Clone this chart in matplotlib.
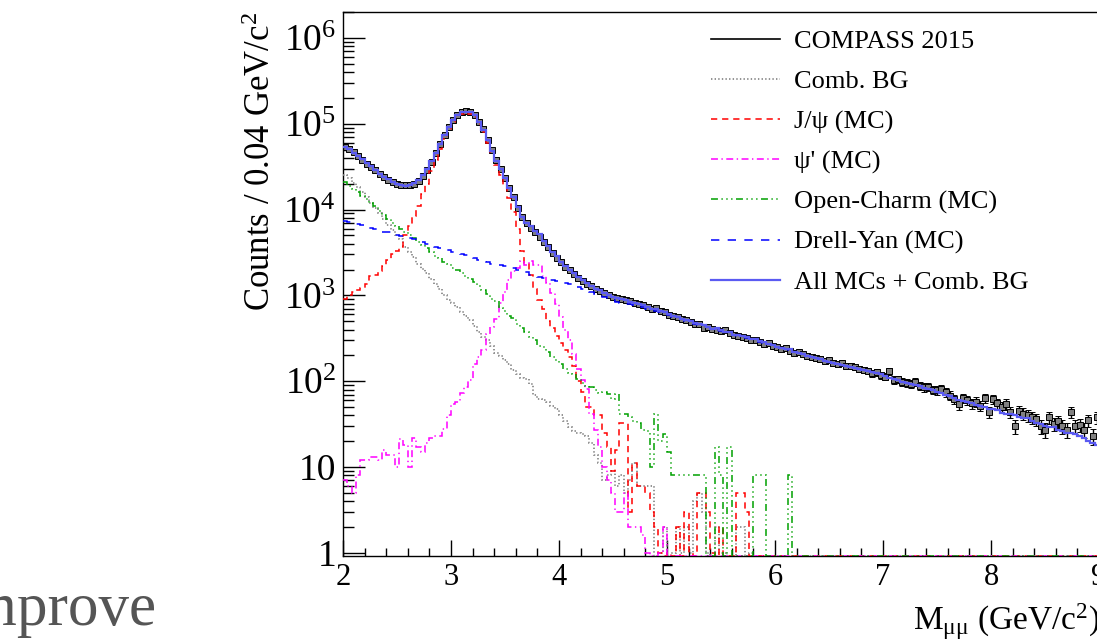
import numpy as np
import matplotlib
matplotlib.use('Agg')
import matplotlib.pyplot as plt
from matplotlib.lines import Line2D
from matplotlib.ticker import MultipleLocator, LogLocator, NullFormatter

plt.rcParams['font.family'] = ['Liberation Serif', 'DejaVu Serif']
plt.rcParams['mathtext.fontset'] = 'custom'
plt.rcParams['mathtext.rm'] = 'Liberation Serif'
plt.rcParams['mathtext.it'] = 'Liberation Serif:italic'
plt.rcParams['lines.scale_dashes'] = False

# 0.04 GeV bins from 2.00 to 9.08 GeV/c^2
bin_width = 0.04
edges = np.round(2.0 + bin_width * np.arange(178), 2)
nbins = len(edges) - 1

compass_2015 = [
    54000, 50500, 46500, 42000, 38000, 34000, 31000, 28500, 26000, 23800,
    22200, 20900, 20000, 19400, 19200, 19300, 19900, 21600, 24500, 28500,
    35500, 45000, 58000, 74000, 92000, 110000, 126000, 136000, 139000, 136000,
    126000, 106000, 86000, 65000, 49000, 38000, 29500, 23500, 18000, 14000,
    10300, 8200, 7000, 6100, 5400, 4800, 4150, 3650, 3100, 2750,
    2430, 2150, 1950, 1780, 1600, 1470, 1370, 1290, 1200, 1120,
    1060, 1010, 970, 940, 905, 875, 850, 820, 795, 770,
    735, 700, 705, 655, 640, 590, 575, 560, 530, 515,
    495, 470, 460, 420, 430, 405, 400, 385, 390, 365,
    350, 335, 325, 315, 300, 305, 285, 270, 275, 255,
    250, 240, 245, 225, 215, 218, 205, 198, 190, 185,
    180, 172, 175, 165, 160, 163, 152, 150, 148, 140,
    136, 132, 124, 127, 118, 113, 130, 104, 105, 98,
    96, 93, 98, 89, 85, 86, 80, 78, 82, 74,
    68, 62, 54, 63, 60, 55, 58, 52, 63, 44,
    62, 55, 50, 54, 44, 30, 45, 42, 40, 38,
    36, 30, 27, 38, 32, 34, 30, 27, 44, 30,
    31, 27, 35, 23, 38, 34, 30,
]

comb_bg = [
    25000, 23000, 20500, 18300, 16000, 14000, 12000, 10500, 9000, 7700,
    6600, 5800, 5100, 4500, 3700, 3200, 2800, 2350, 2050, 1800,
    1550, 1350, 1180, 1000, 890, 820, 730, 640, 580, 520,
    440, 370, 330, 300, 255, 215, 195, 175, 160, 135,
    120, 110, 105, 94, 70, 62, 60, 58, 52, 48,
    40, 34, 29, 26, 25, 24, 23, 19, 14, 11,
    7, 8, 9, 6, 8, 5, 7, 11, 6, 6,
    6, 6, 0, 1, 2, 0, 1, 2, 1, 2,
    1, 4, 5, 3, 1, 0, 2, 1, 1, 0,
    0, 2, 2, 0, 1, 0, 0, 0, 0, 0,
]

jpsi_mc = [
    900, 1000, 1100, 1150, 1210, 1350, 1660, 1750, 1900, 2200,
    2600, 3000, 3250, 3700, 5000, 6400, 8500, 11000, 15000, 20000,
    28000, 38000, 51000, 67000, 86000, 104000, 120000, 130000, 133000, 130000,
    120000, 100000, 80000, 60000, 44000, 33000, 25500, 19000, 13500, 9300,
    6000, 3300, 2400, 1750, 1200, 880, 700, 500, 420, 340,
    275, 230, 190, 150, 100, 75, 50, 50, 40, 40,
    25, 17, 9, 16, 33, 33, 3, 11, 6, 6,
    5, 3, 2, 1, 0, 1, 0, 2, 0, 3,
    1, 0, 5, 5, 3, 1, 0, 2, 0, 0,
    0, 5, 5, 3, 0, 0, 0, 0, 0, 0,
]

psi2s_mc = [
    7, 6, 5, 8, 12, 12, 13, 13, 12, 16,
    14, 14, 10, 21, 18, 10, 22, 17, 15, 19,
    22, 23, 23, 28, 40, 54, 57, 72, 85, 102,
    160, 192, 229, 351, 431, 525, 811, 1100, 1500, 1900,
    2100, 2490, 2280, 2490, 2280, 2280, 1700, 1400, 1060, 800,
    560, 400, 300, 210, 140, 102, 82, 42, 27, 17,
    10, 7, 5, 3, 3, 5, 2, 2, 2, 1.6,
    1, 0, 0, 1, 2,
]

open_charm_mc = [
    20700, 19000, 17300, 15800, 14500, 13200, 12000, 11000, 9600, 8700,
    7800, 7000, 6500, 6000, 5400, 5000, 4600, 4200, 3900, 3550,
    3200, 2900, 2700, 2450, 2300, 2100, 1980, 1800, 1660, 1550,
    1420, 1300, 1150, 1050, 900, 850, 720, 650, 570, 540,
    470, 420, 370, 330, 300, 260, 250, 220, 190, 175,
    160, 140, 125, 120, 105, 95, 88, 85, 78, 72,
    75, 71, 62, 71, 42, 42, 38, 34, 33, 27,
    26, 10, 42, 20, 24, 15, 8, 8, 8, 8,
    8, 8, 8, 8, 0, 0, 17, 8, 0, 17,
    0, 0, 0, 0, 0, 8, 8, 8, 0, 0,
    0, 0, 0, 8,
]

drell_yan_mc = [
    7300, 7100, 6900, 6700, 6550, 6350, 6100, 5900, 5700, 5500,
    5400, 5250, 5100, 4950, 4900, 4700, 4550, 4300, 4150, 3950,
    3750, 3700, 3550, 3450, 3350, 3200, 3100, 3000, 2950, 2850,
    2700, 2600, 2550, 2450, 2350, 2300, 2250, 2200, 2180, 2100,
    2000, 1900, 1850, 1750, 1700, 1650, 1600, 1550, 1500, 1480,
    1430, 1380, 1350, 1300, 1250, 1200, 1150, 1080, 1040, 1000,
    945, 905, 880, 845, 820, 795, 790, 765, 750, 730,
    700, 680, 650, 635, 610, 585, 565, 545, 525, 505,
    490, 470, 450, 435, 425, 410, 395, 385, 375, 360,
    350, 340, 330, 320, 310, 300, 290, 280, 272, 262,
    253, 245, 236, 228, 220, 212, 205, 197, 190, 185,
    180, 174, 168, 163, 158, 153, 150, 146, 142, 138,
    134, 130, 127, 123, 120, 115, 110, 106, 102, 98,
    96, 93, 90, 87, 84, 81, 78, 75, 72, 70,
    67, 64, 61, 59, 57, 55, 53, 51, 50, 48,
    47, 46, 43, 42, 41, 40, 38, 37, 37, 34,
    33, 32, 30, 29, 29, 27, 26, 25, 25, 24,
    23, 22, 20, 19, 18, 17, 17,
]

labels = ['COMPASS 2015', 'Comb. BG', 'J/\u03c8 (MC)', "\u03c8' (MC)",
          'Open-Charm (MC)', 'Drell-Yan (MC)', 'All MCs + Comb. BG']


def full(vals):
    # histogram bins beyond the listed ones are empty
    vals = np.asarray(vals, dtype=float)
    return np.pad(vals, (0, nbins - len(vals)))


data = np.asarray(compass_2015, dtype=float)
comb = full(comb_bg)
jpsi = full(jpsi_mc)
psi2s = full(psi2s_mc)
ocharm = full(open_charm_mc)
dy = full(drell_yan_mc)
total = comb + jpsi + psi2s + ocharm + dy

ylo, yhi = 0.92, 2.0e6

fig = plt.figure(figsize=(10.97, 6.41), dpi=100)
ax = fig.add_axes([343 / 1097, 1 - 556 / 641, 864 / 1097, 544 / 641])
ax.set_yscale('log')

centers = edges[:-1] + bin_width / 2
ax.errorbar(centers, data, xerr=bin_width / 2, yerr=np.sqrt(data), fmt='s',
            ms=3.8, mfc='#808080', mec='black', mew=0.7, ecolor='black',
            elinewidth=1.0, capsize=2.0, capthick=1.0, zorder=2)

styles = [
    (comb, '#808080', (0, (1.0, 1.6)), 1.2),
    (jpsi, '#ff0000', (0, (4.5, 3.5)), 1.1),
    (psi2s, '#ff00ff', (0, (5, 2.5, 1, 2.5)), 1.1),
    (ocharm, '#00a000', (0, (5, 2.5, 1, 2.5, 1, 2.5, 1, 2.5)), 1.1),
    (dy, '#0000ff', (0, (6, 6)), 1.1),
]
for vals, col, ls, lw in styles:
    ax.stairs(np.maximum(vals, ylo), edges, baseline=None, color=col,
              linestyle=ls, linewidth=lw, zorder=3)
ax.stairs(total, edges, baseline=None, color='#5a5af2', linewidth=1.6, zorder=4)

ax.set_xlim(2, 10)
ax.set_ylim(ylo, yhi)

ax.xaxis.set_major_locator(MultipleLocator(1))
ax.xaxis.set_minor_locator(MultipleLocator(0.2))
ax.set_yticks([10.0 ** k for k in range(7)])
ax.set_yticklabels(['1', '10'] + ['10$^{%d}$' % k for k in range(2, 7)])
ax.yaxis.set_minor_locator(LogLocator(base=10, subs=np.arange(2, 10)))
ax.yaxis.set_minor_formatter(NullFormatter())

ax.tick_params(axis='y', which='major', direction='in', length=15.8, width=1.0,
               labelsize=27, pad=5)
ax.tick_params(axis='y', which='minor', direction='in', length=7.9, width=1.0)
ax.tick_params(axis='x', which='major', direction='in', length=11.5, width=1.0,
               labelsize=22, pad=5)
ax.tick_params(axis='x', which='minor', direction='in', length=5.8, width=1.0)
for sp in ax.spines.values():
    sp.set_linewidth(1.0)

fig.text(262 / 1097, 1 - 12 / 641, 'Counts / 0.04 GeV/c$^{2}$', rotation=90,
         ha='center', va='top', fontsize=25)
fig.text(1 + 3 / 1097, 1 - 622 / 641, 'M$_{\\mathrm{\u03bc\u03bc}}$ (GeV/c$^{2}$)',
         ha='right', va='center', fontsize=24)

handles = [
    Line2D([], [], color='black', lw=1.2),
    Line2D([], [], color='#808080', lw=1.2, ls=(0, (1.0, 1.6))),
    Line2D([], [], color='#ff0000', lw=1.1, ls=(0, (4.5, 3.5))),
    Line2D([], [], color='#ff00ff', lw=1.1, ls=(0, (5, 2.5, 1, 2.5))),
    Line2D([], [], color='#00a000', lw=1.1, ls=(0, (5, 2.5, 1, 2.5, 1, 2.5, 1, 2.5))),
    Line2D([], [], color='#0000ff', lw=1.1, ls=(0, (6, 6))),
    Line2D([], [], color='#5a5af2', lw=1.6),
]
ax.legend(handles, labels, loc='upper left', bbox_to_anchor=(711 / 1097, 1 - 30 / 641),
          bbox_transform=fig.transFigure, frameon=False, fontsize=19,
          handlelength=2.6, handletextpad=0.55, labelspacing=0.62,
          borderpad=0, borderaxespad=0)

# text from the slide behind the figure
fig.text(157 / 1097, 1 - 625 / 641, 'Improve', ha='right', va='baseline',
         fontsize=44, color='#555555')

fig.savefig('out.png', dpi=100)
